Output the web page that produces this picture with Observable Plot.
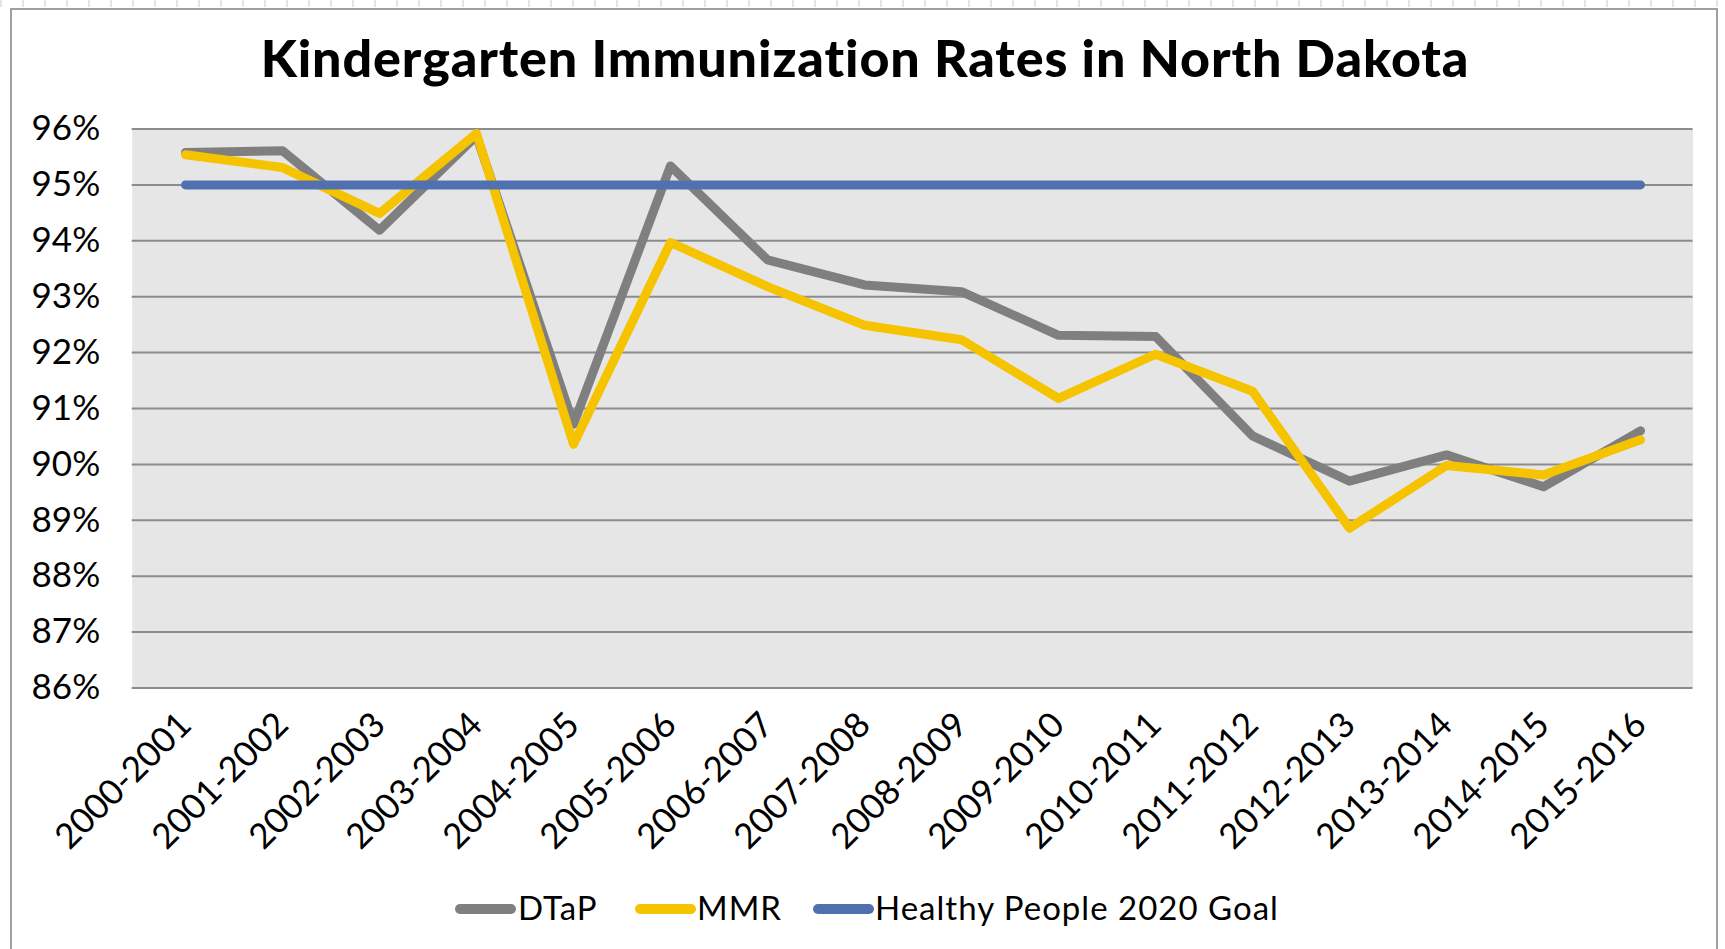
<!DOCTYPE html>
<html>
<head>
<meta charset="utf-8">
<script src="https://cdn.jsdelivr.net/npm/d3@7"></script>
<script src="https://cdn.jsdelivr.net/npm/@observablehq/plot@0.6"></script>
<style>
  html, body { margin: 0; padding: 0; background: #fff; overflow: hidden; }
  #page { position: relative; width: 1725px; height: 949px; overflow: hidden; font-family: Lato, "Open Sans", sans-serif; }
  #ruler { position: absolute; left: 0; top: 0; width: 1725px; height: 7px;
    background: repeating-linear-gradient(90deg, #e4e4e4 0 2px, transparent 2px 22px); }
  #border { position: absolute; left: 10px; top: 8px; width: 1708px; height: 1000px; border: 2px solid #a0a0a0; box-sizing: border-box; }
  #title { position: absolute; left: 0; top: 26px; width: 1730px; text-align: center; font-size: 52px; line-height: 1.2;
    font-weight: 900; color: #000; white-space: nowrap; letter-spacing: 0.9px; }
  #chart { position: absolute; left: 0; top: 100px; }
  .lg { position: absolute; font-size: 33px; line-height: 1.2; color: #000; white-space: nowrap; letter-spacing: 1px; }
  .sw { position: absolute; width: 61px; height: 10px; border-radius: 5px; }
</style>
</head>
<body>
<div id="page">
  <div id="ruler"></div>
  <div id="border"></div>
  <div id="title">Kindergarten Immunization Rates in North Dakota</div>
  <div id="chart"></div>
  <div id="legend"></div>
</div>
<script>
// ---- data ----
const categories = ["2000-2001","2001-2002","2002-2003","2003-2004","2004-2005","2005-2006","2006-2007","2007-2008",
                    "2008-2009","2009-2010","2010-2011","2011-2012","2012-2013","2013-2014","2014-2015","2015-2016"];
const dtap = [95.58, 95.61, 94.19, 95.88, 90.72, 95.34, 93.66, 93.21, 93.09, 92.31, 92.29, 90.51, 89.70, 90.17, 89.60, 90.60];
const mmr  = [95.54, 95.31, 94.49, 95.92, 90.36, 93.97, 93.18, 92.49, 92.23, 91.18, 91.97, 91.31, 88.86, 89.98, 89.81, 90.44];
const goal = [95, 95, 95, 95, 95, 95, 95, 95, 95, 95, 95, 95, 95, 95, 95, 95];
const yTicks = [86, 87, 88, 89, 90, 91, 92, 93, 94, 95, 96];
const seriesNames = ["DTaP", "MMR", "Healthy People 2020 Goal"];
const seriesColors = ["#7f7f7f", "#f5c300", "#5070b0"];

const rows = [];
[dtap, mmr, goal].forEach((vals, s) => {
  vals.forEach((v, i) => rows.push({series: seriesNames[s], cat: categories[i], value: v}));
});

const lineOpts = {strokeWidth: 9, strokeLinejoin: "round", strokeLinecap: "round"};

const chart = Plot.plot({
  width: 1725,
  height: 780,
  marginLeft: 131.7,
  marginRight: 32.5,
  marginTop: 28.5,
  marginBottom: 192.5,
  style: {fontFamily: "Lato, 'Open Sans', sans-serif", color: "#000", background: "transparent", overflow: "visible"},
  x: {type: "point", domain: categories, padding: 0.5},
  y: {domain: [86, 96]},
  marks: [
    Plot.frame({fill: "#e6e6e6", stroke: "none"}),
    Plot.gridY(yTicks, {stroke: "#8c8c8c", strokeOpacity: 1, strokeWidth: 2}),
    Plot.lineY(rows.filter(d => d.series === seriesNames[0]), {x: "cat", y: "value", stroke: seriesColors[0], ...lineOpts}),
    Plot.lineY(rows.filter(d => d.series === seriesNames[1]), {x: "cat", y: "value", stroke: seriesColors[1], ...lineOpts}),
    Plot.lineY(rows.filter(d => d.series === seriesNames[2]), {x: "cat", y: "value", stroke: seriesColors[2], ...lineOpts}),
    Plot.axisY(yTicks, {tickSize: 0, tickPadding: 32, fontSize: 35, tickFormat: d => d + "%", label: null}),
    Plot.axisX({tickSize: 0, tickPadding: 31, tickRotate: -45, fontSize: 35, label: null, letterSpacing: 1})
  ]
});
document.getElementById("chart").appendChild(chart);

// ---- legend (HTML, below the SVG) ----
const legend = document.getElementById("legend");
const swX = [455, 635, 813];
const txX = [518, 697, 875];
seriesNames.forEach((name, i) => {
  const sw = document.createElement("div");
  sw.className = "sw";
  sw.style.left = swX[i] + "px";
  sw.style.top = "904px";
  sw.style.background = seriesColors[i];
  legend.appendChild(sw);
  const t = document.createElement("div");
  t.className = "lg";
  t.style.left = txX[i] + "px";
  t.style.top = "888px";
  t.textContent = name;
  legend.appendChild(t);
});
</script>
</body>
</html>
